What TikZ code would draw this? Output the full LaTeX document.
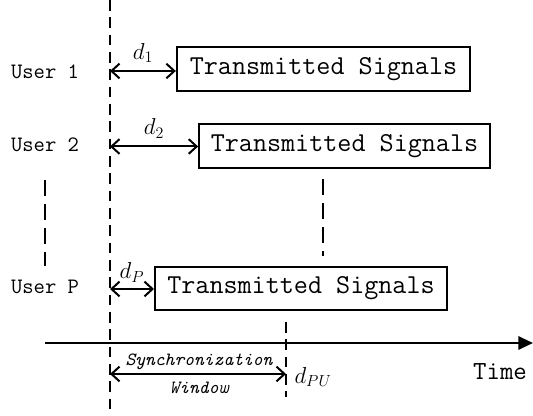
\documentclass[tikz,border=0pt]{standalone}
\usetikzlibrary{arrows.meta}

\begin{document}
\begin{tikzpicture}[x=0.75pt,y=-0.75pt,>={Straight Barb[length=6pt,width=11pt,line width=1.5pt]},line width=1.5pt,
    sig box/.style={draw,minimum height=33pt,inner sep=0pt,font=\ttfamily\fontsize{20.5}{24}\selectfont},
    user node/.style={font=\ttfamily\fontsize{16.5}{20}\selectfont},
    delay node/.style={font=\fontsize{18}{21}\selectfont},
    win node/.style={font=\ttfamily\itshape\fontsize{14}{16}\selectfont},
    dash line/.style={line width=1.3pt,dash pattern=on 8pt off 5pt}]

            \useasboundingbox (0,0) rectangle (533,416);

            \node[user node] (u1) at (45,72) {User 1};
            \node[user node] (u2) at (45,145) {User 2};
            \node[user node] (uP) at (45,287) {User P};

            \node[sig box, minimum width=220pt] (b1) at (323.5,69.5) {Transmitted Signals};
            \node[sig box, minimum width=218pt] (b2) at (344.5,146.5) {Transmitted Signals};
            \node[sig box, minimum width=219pt, minimum height=32pt] (bP) at (301,288.5) {Transmitted Signals};

            \coordinate (top) at (110,0);
            \coordinate (bot) at (110,410);
            \coordinate (s1) at (110,71);
            \coordinate (s2) at (110,146.5);
            \coordinate (sP) at (110,289);
            \coordinate (wtop) at (286,322);
            \coordinate (wbot) at (286,397);
            \coordinate (wl) at (110,374);
            \coordinate (wr) at (286,374);
            \coordinate (t0) at (45,343);
            \coordinate (t1) at (533,343);

            % dashed guides
            \draw[dash line] (top) -- (bot);
            \draw[dash line] (wtop) -- (wbot);
            \draw[line width=2pt,dash pattern=on 12pt off 6pt] (45,180) -- (45,266);
            \draw[line width=2pt,dash pattern=on 12pt off 6pt] (323,179) -- (323,256);

            % delays
            \draw[<->] (s1) -- (s1 -| b1.west) node[delay node,midway,above=2pt] {$d_1$};
            \draw[<->] (s2) -- (b2.west) node[delay node,midway,above=2pt] {$d_2$};
            \draw[<->] (sP) -- (sP -| bP.west) node[delay node,midway,above=1pt] {$d_P$};

            % time axis
            \draw[-{Triangle[length=11pt,width=10pt]}] (t0) -- (t1);
            \node[font=\ttfamily\fontsize{19.6}{23}\selectfont] (tm) at (500,372) {Time};

            \draw[<->] (wl) -- (wr);
            \node[win node] (sy) at (199,362) {Synchronization};
            \node[win node] (wi) at (199,388) {Window};
            \node[delay node] (dpu) at (313,377) {$d_{PU}$};

        \end{tikzpicture}
\end{document}
